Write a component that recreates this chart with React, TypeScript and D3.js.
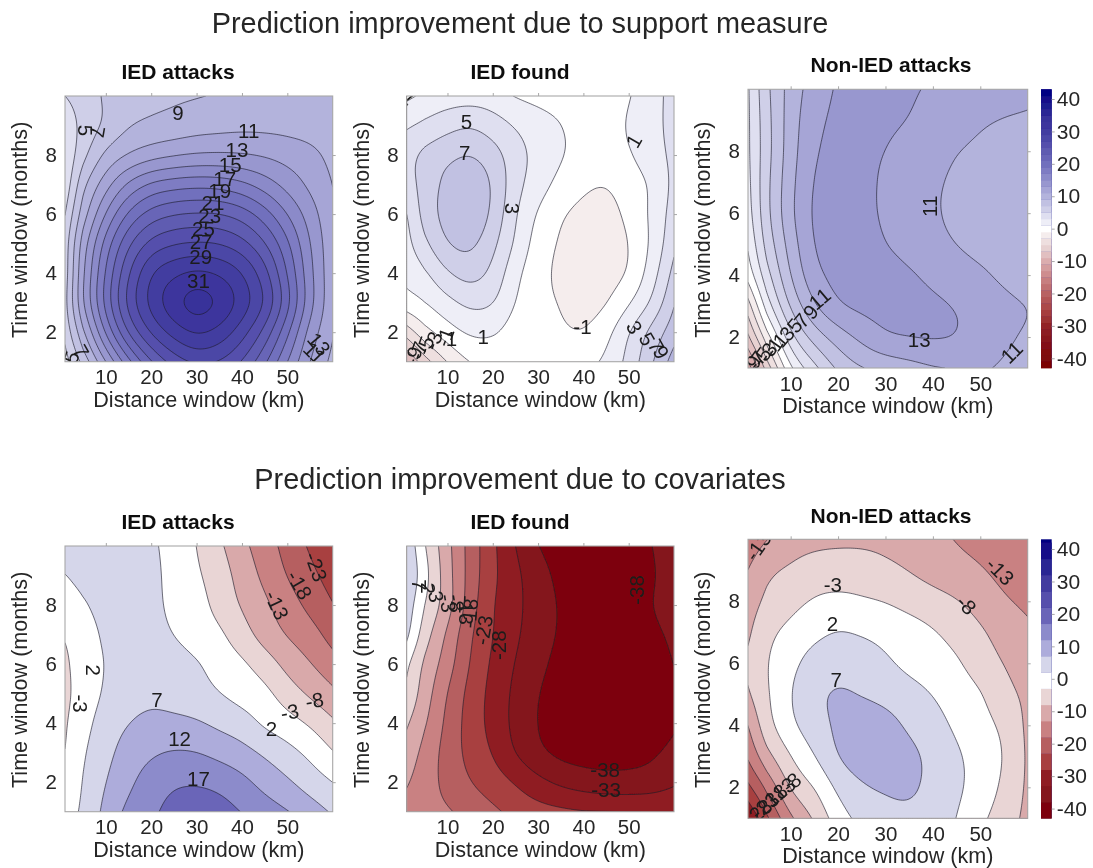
import { useEffect, useRef } from "react";
import * as d3 from "d3";

// grid positions the values below were read at
const kmKnots = [1, 5, 10, 15, 20, 25, 30, 35, 40, 45, 50, 55, 60];
const monthRows = [10, 9, 8, 7, 6, 5, 4, 3, 2, 1];

// improvement values, one row per month (10 down to 1), one column per km knot
const supportAttacks = [
  [5.0, 6.0, 7.3, 8.0, 8.4, 8.7, 8.9, 9.15, 9.4, 9.6, 9.7, 9.8, 9.7],
  [3.5, 5.6, 7.2, 8.8, 9.3, 9.6, 10, 10.2, 10.4, 10.4, 10.3, 10, 9.6],
  [3.2, 6.3, 9.5, 11, 12, 12.6, 13, 13.1, 13, 12.7, 12.2, 11.7, 10.4],
  [3.5, 8.6, 12.2, 15.5, 17.5, 18.2, 18.5, 18.3, 17.5, 16, 14.2, 12.5, 11],
  [5, 10, 15.2, 19.5, 22, 23, 23.3, 23.2, 22.2, 20, 17, 14, 11.3],
  [6, 12, 18, 22.8, 25.8, 26.9, 27.2, 27, 25.8, 23.3, 19.5, 15, 11.5],
  [6, 12.7, 19.4, 25, 29.2, 30.8, 31.6, 31, 29.3, 26, 21, 15.5, 11.5],
  [6.5, 13, 20, 26, 30, 32.8, 34.6, 33.2, 30.5, 27.3, 22, 15.7, 11.5],
  [5.6, 10.5, 17.5, 23.5, 27.5, 30, 31.5, 30.5, 28, 24.5, 19.5, 14, 11.2],
  [4.2, 7.5, 13, 18.5, 23, 26, 27.5, 27, 25, 21.5, 17, 12.8, 10.5],
];
const supportFound = [
  [0.6, 1.4, 1.9, 2.1, 1.9, 0.85, 0.4, 0.2, 0.1, 0.2, 0.8, 2.2, 3.7],
  [2.8, 3.4, 4.4, 5, 4, 2.9, 1.9, 1.1, 0.3, 0.2, 1.2, 2.3, 3.7],
  [4.4, 5.7, 6.6, 7.2, 6, 3.9, 2.4, 1.2, 0.4, 0.2, 0.8, 2.1, 3.5],
  [4.3, 5.7, 7.8, 8.7, 7, 3.7, 1.9, 0.4, -0.7, -1.1, 0, 1.1, 3.5],
  [2.9, 5.9, 8, 8.9, 6.7, 3.1, 0.7, -0.9, -1.6, -1.8, -0.6, 1.3, 3.9],
  [2.4, 4.6, 7.2, 7.7, 5.6, 2.7, 0, -1.3, -1.9, -1.9, -1.2, 1.2, 4.5],
  [1.6, 2.6, 4.9, 6, 4.6, 1.5, -0.4, -1.5, -2, -1.9, -1.1, 1.9, 5.6],
  [0.4, 1, 2.4, 3.6, 3.3, 0.9, -0.6, -1.05, -1.9, -1.3, 0.7, 3.1, 6.8],
  [-4, -1.5, 0.2, 1.4, 1.3, 0, -0.5, -0.8, -1.1, 0.3, 3, 5.7, 8.1],
  [-9, -5.8, -2.8, -0.8, -0.3, -0.2, -0.1, 0, 0.3, 1.3, 3.6, 6.7, 9.9],
];
const supportNonIed = [
  [2.8, 6.6, 9.9, 12, 13.3, 13.7, 13.6, 13.2, 12.8, 12.4, 12, 11.7, 11.4],
  [2.7, 6.3, 10.1, 12.5, 13.5, 13.5, 13.3, 13, 12.4, 11.9, 11.2, 10.9, 10.8],
  [2.7, 6.2, 10.2, 12.9, 13.7, 13.4, 13, 12.4, 11.8, 11, 10.6, 10.3, 10.2],
  [2.5, 6.5, 10.5, 13.3, 14, 13.5, 12.7, 12, 11.3, 10.6, 10.3, 10.1, 10],
  [2.2, 6.5, 10.7, 13.5, 14, 13.5, 12.7, 12, 11.2, 10.5, 10.2, 10, 10],
  [1.3, 5.8, 10, 13.3, 14, 13.8, 13, 12.2, 11.6, 10.9, 10.4, 10.2, 10.1],
  [0, 4.3, 9.2, 12.6, 13.7, 14, 13.9, 13.3, 12.6, 11.9, 11.3, 10.6, 10],
  [-4, 2.1, 7.5, 11, 13, 13.6, 13.7, 13.6, 13.4, 13, 12.2, 11.5, 11.1],
  [-7.2, -1.9, 4.6, 8, 10, 11.6, 13, 13.3, 13.4, 13.2, 12, 11.3, 10.8],
  [-12, -6.3, 1, 4.5, 7.5, 9, 9.6, 10.2, 10.9, 11.1, 11.2, 10.8, 10.3],
];
const covariateAttacks = [
  [3.5, 3, 3, 3, 2.8, 0.4, -3, -7, -11.8, -15.5, -19.8, -23.6, -28],
  [2, 3.3, 3.8, 3.8, 3.5, 0.2, -2.3, -5.3, -10.1, -14.2, -18.3, -21.6, -25.2],
  [-0.3, 1.5, 3.7, 4, 3.5, 0.6, -1, -4.7, -8.6, -12, -15.7, -19.4, -22.8],
  [-2.6, -0.2, 2.9, 3.5, 3.7, 1.9, -0.4, -1.9, -5.9, -10.4, -13.5, -15.9, -20],
  [-4.1, -0.1, 2.2, 3.3, 4.4, 4.1, 2.7, -0.2, -1.9, -5.3, -9.6, -12.8, -16],
  [-4.2, -0.9, 2.7, 4.9, 5.9, 5, 3.9, 2, 0, -1.4, -5.5, -8.9, -12],
  [-3.5, 0.2, 4.5, 7, 8.3, 8.1, 7.5, 5.8, 4.2, 0.9, -1, -3.5, -7.1],
  [-3, 1.5, 5.6, 9.2, 11.4, 12.5, 12.2, 10.5, 8.7, 6.3, 3.7, 0.9, -2.7],
  [-1.5, 2.1, 7, 11, 14.5, 16.5, 16.7, 15.7, 13.5, 10.3, 7.7, 4.6, 2],
  [0.5, 2.4, 8.6, 13.4, 15.9, 19, 20.2, 19.3, 16.8, 14.5, 12.3, 9.5, 6.4],
];
const covariateFound = [
  [6, -2.7, -11.5, -20, -27, -33.1, -38.2, -40, -40.5, -40.5, -40, -38.1, -36],
  [7.2, -0.9, -11, -20, -27, -31.7, -36.2, -39.2, -40.5, -41, -40.5, -38.6, -36],
  [5, -3, -10.4, -20.7, -28, -31.6, -35.6, -38.5, -40.3, -41, -40.3, -38, -36],
  [3.5, -5.8, -14, -22.5, -28, -32.2, -35.8, -38.6, -40.2, -40.8, -40.5, -39, -37.2],
  [-2.4, -9.1, -15.6, -23.4, -29, -33.3, -36.8, -39.5, -40.8, -41, -40.8, -40, -37.9],
  [-3.8, -10.5, -18.3, -24.8, -29.7, -34.2, -38, -40.3, -41.3, -41.3, -41, -40.4, -39],
  [-7.5, -12.2, -19.5, -25.2, -29.8, -34.5, -38.4, -40.5, -41.4, -41.4, -41, -40, -38.6],
  [-10, -14.7, -20.2, -24.7, -28.3, -33.5, -37.4, -39.6, -40.4, -40.3, -39.8, -38.9, -37],
  [-12.5, -15.8, -19.6, -23, -25.6, -28.3, -31.7, -34.2, -35.6, -36.5, -36.7, -36.2, -34],
  [-15, -16.6, -17.4, -19.7, -22, -24.5, -26, -27, -27.8, -27.9, -28, -28, -28.2],
];
const covariateNonIed = [
  [-16.4, -13, -10.5, -9.5, -9, -9, -9.3, -10, -11.5, -13.3, -14.6, -16, -17.5],
  [-12.8, -8.7, -7.2, -5.5, -5.4, -5.6, -7, -8.3, -10, -11.4, -12.6, -14.5, -16.2],
  [-10.5, -6.9, -4.5, -2.5, -1.8, -2.5, -3.1, -4.7, -6.1, -7.6, -10, -12.5, -14],
  [-8.8, -4, -1.6, 0.8, 2.5, 1.7, 0.7, -0.6, -2.4, -4.7, -7.2, -10, -12],
  [-7, -3.1, 0.7, 4.3, 5.2, 4.5, 2.7, 0.6, -0.6, -2.2, -5.5, -8.2, -10],
  [-8.3, -3.6, 2.1, 6.3, 7.9, 6.8, 5.6, 3.9, 1.9, -0.5, -2.3, -6.8, -8.9],
  [-13, -4.4, 1.3, 4.9, 8.2, 9.6, 8.9, 6.3, 4, 1.1, -1.2, -3.8, -9],
  [-17, -9.3, -2.9, 2, 7.5, 9.9, 9.6, 8.4, 5.9, 2.7, 0.3, -2.9, -8.6],
  [-24, -17, -6.9, -3, 3.3, 6.6, 7.7, 8.1, 5.8, 3, 0.1, -3.9, -8.8],
  [-33, -24, -13.5, -7.4, -0.2, 3.6, 5.3, 5.9, 5, 2, -1.9, -5.5, -9.3],
];

// contour labels: text, km, months, rotation
const supportAttacksLabels = [
  ["9", 25.9, 9.44, 0], ["11", 41.5, 8.83, 0], ["13", 38.9, 8.19, 0], ["15", 37.4, 7.69, 0],
  ["17", 36.2, 7.2, 0], ["19", 35.1, 6.79, 0], ["21", 33.6, 6.38, 0], ["23", 32.9, 5.96, 0],
  ["25", 31.5, 5.51, 0], ["27", 31, 5.06, 0], ["29", 30.9, 4.55, 0], ["31", 30.4, 3.75, 0],
  ["5", 5.5, 8.83, 90], ["7", 8.2, 8.79, 100], ["5", 2.4, 1.15, -70], ["7", 4.6, 1.35, 60],
  ["13", 57, 1.6, 50], ["11", 56, 1.3, 45],
];
const supportFoundLabels = [
  ["1", 1.7, 9.95, 50], ["5", 14.2, 9.13, 0], ["7", 13.8, 8.08, 0], ["3", 24.3, 6.19, 90],
  ["1", 51.1, 8.48, -60], ["-1", 39.8, 2.2, 0], ["1", 17.9, 1.85, 0], ["1", 10.9, 1.79, 0],
  ["-1", 9.4, 1.83, -70], ["-3", 6.8, 1.71, -70], ["-5", 5, 1.55, -70], ["-7", 3.5, 1.37, -70],
  ["-9", 2.4, 1.2, -70], ["3", 51.3, 2.17, 60], ["5", 54.1, 1.77, 60], ["7", 56.1, 1.54, 60],
  ["9", 57.2, 1.32, 60],
];
const supportNonIedLabels = [
  ["11", 39.4, 6.22, -90], ["13", 37.1, 1.91, 0], ["11", 56.6, 1.51, -45], ["11", 16.1, 3.24, -40],
  ["9", 14.2, 2.81, -50], ["7", 12.3, 2.54, -50], ["5", 10.8, 2.38, -50], ["3", 9.2, 2.11, -50],
  ["1", 7.8, 1.91, -50], ["-1", 6.3, 1.68, -55], ["-3", 5, 1.51, -55], ["-5", 3.8, 1.37, -55],
  ["-7", 2.7, 1.24, -55], ["-9", 1.7, 1.11, -55],
];
const covariateAttacksLabels = [
  ["-23", 56.4, 9.3, 70], ["-18", 52.7, 8.68, 60], ["-13", 47.7, 8, 65], ["-8", 56, 4.77, -10],
  ["-3", 50.5, 4.38, -10], ["2", 46.5, 3.81, 0], ["7", 21.25, 4.8, 0], ["12", 26.25, 3.47, 0],
  ["17", 30.4, 2.11, 0], ["2", 7.3, 5.79, 90], ["-3", 4.3, 4.66, 90],
];
const covariateFoundLabels = [
  ["-38", 51.7, 8.51, -90], ["-38", 44.8, 2.42, 0], ["-33", 45, 1.74, 0], ["-28", 21.2, 6.64, -90],
  ["-23", 17.9, 7.15, -80], ["-18", 14.9, 7.72, -85], ["-13", 14.2, 7.83, 90], ["-8", 12, 8.06, 80],
  ["-3", 10.1, 8.06, 80], ["-3", 7.4, 8.4, 80], ["2", 5.7, 8.57, 90], ["7", 3.9, 8.68, 90],
];
const covariateNonIedLabels = [
  ["-13", 3.1, 9.78, -55], ["-13", 54.2, 8.97, 45], ["-8", 47.1, 7.89, 45], ["-3", 18.9, 8.54, 0],
  ["2", 18.8, 7.28, 0], ["7", 19.6, 5.48, 0], ["-8", 10.1, 2.16, -40], ["-13", 8, 1.89, -40],
  ["-18", 6.3, 1.68, -40], ["-23", 4.5, 1.41, -40], ["-28", 3.1, 1.19, -40],
];

const kmTicks = [10, 20, 30, 40, 50];
const monthTicks = [2, 4, 6, 8];
const barTicks = [40, 30, 20, 10, 0, -10, -20, -30, -40];

// colour ramps of the filled bands, the two rows use slightly different blues
const redValues = [-43, -35.5, -30.5, -25.5, -20.5, -15.5, -10.5, -5.5, -2, 0];
const redColors = ["#7a0000", "#84121a", "#8f1f22", "#a84040", "#b65e60", "#c98182", "#d9a9aa", "#e9d5d5", "#f5eded", "#ffffff"];
const rampSupport = d3
  .scaleLinear<string>()
  .domain([...redValues, 2, 6, 10, 14, 20, 30, 34, 43])
  .range([...redColors, "#eeeef7", "#cfcfe8", "#b3b3dc", "#9897cf", "#716fbd", "#433ca0", "#38309a", "#000080"])
  .clamp(true);
const rampCovariates = d3
  .scaleLinear<string>()
  .domain([...redValues, 4.5, 9.5, 14.5, 19.5, 32, 43])
  .range([...redColors, "#d5d6ea", "#adacdb", "#8c8bcb", "#6a65b8", "#393099", "#000080"])
  .clamp(true);

const levelsSupport = d3.range(-43, 45, 2);
const levelsCovariates = d3.range(-43, 43, 5);

const bandColor = (ramp: any, lo: number, hi: number) => (lo < 0 && hi > 0 ? "#ffffff" : ramp((lo + hi) / 2));

// smooth drawing of the read-off grid, for the contour tracer
const kmIndex = d3.scaleLinear().domain(kmKnots).range(kmKnots.map((_, i) => i));
const monthIndex = d3.scaleLinear().domain(monthRows).range(monthRows.map((_, i) => i));
const BASIS_SHARE = 0.7;

function cubic(a: number, b: number, c: number, d: number, t: number) {
  const t2 = t * t;
  const t3 = t2 * t;
  const cr = 0.5 * (2 * b + (c - a) * t + (2 * a - 5 * b + 4 * c - d) * t2 + (3 * b - a - 3 * c + d) * t3);
  const bs = ((1 - t) ** 3 * a + (3 * t3 - 6 * t2 + 4) * b + (-3 * t3 + 3 * t2 + 3 * t + 1) * c + t3 * d) / 6;
  return BASIS_SHARE * bs + (1 - BASIS_SHARE) * cr;
}

function pick(list: number[], i: number) {
  if (i < 0) return 2 * list[0] - list[1];
  if (i >= list.length) return 2 * list[list.length - 1] - list[list.length - 2];
  return list[i];
}

function sample(grid: number[][], km: number, month: number) {
  const u = kmIndex(km);
  const v = monthIndex(month);
  const iu = Math.min(Math.floor(u), kmKnots.length - 2);
  const iv = Math.min(Math.floor(v), monthRows.length - 2);
  const column = [-1, 0, 1, 2].map((dv) => {
    const r = iv + dv;
    const at = (j: number) =>
      r < 0 ? 2 * grid[0][j] - grid[1][j] : r >= grid.length ? 2 * grid[grid.length - 1][j] - grid[grid.length - 2][j] : grid[r][j];
    const vals = kmKnots.map((_, j) => at(j));
    return cubic(pick(vals, iu - 1), pick(vals, iu), pick(vals, iu + 1), pick(vals, iu + 2), u - iu);
  });
  return cubic(column[0], column[1], column[2], column[3], v - iv);
}

const panels = [
  { title: "IED attacks", grid: supportAttacks, labels: supportAttacksLabels, levels: levelsSupport, ramp: rampSupport, box: [65, 96, 267.7, 265.7], titleXY: [178, 72] },
  { title: "IED found", grid: supportFound, labels: supportFoundLabels, levels: levelsSupport, ramp: rampSupport, box: [406.7, 96, 267.3, 265.7], titleXY: [520, 72] },
  { title: "Non-IED attacks", grid: supportNonIed, labels: supportNonIedLabels, levels: levelsSupport, ramp: rampSupport, box: [748, 89.3, 279.7, 278.7], titleXY: [891, 65] },
  { title: "IED attacks", grid: covariateAttacks, labels: covariateAttacksLabels, levels: levelsCovariates, ramp: rampCovariates, box: [65, 546, 267.7, 265.7], titleXY: [178, 522] },
  { title: "IED found", grid: covariateFound, labels: covariateFoundLabels, levels: levelsCovariates, ramp: rampCovariates, box: [406.7, 546, 267.3, 265.7], titleXY: [520, 522] },
  { title: "Non-IED attacks", grid: covariateNonIed, labels: covariateNonIedLabels, levels: levelsCovariates, ramp: rampCovariates, box: [748, 539.3, 279.7, 279], titleXY: [891, 516] },
];

const colorBars = [
  { levels: levelsSupport, ramp: rampSupport, box: [1041, 89.3, 10.7, 278.7] },
  { levels: levelsCovariates, ramp: rampCovariates, box: [1041, 539.3, 10.7, 279] },
];

const FONT = "'Liberation Sans', Arial, sans-serif";
const INK = "#262626";
const FRAME = "#a8a8a8";
const NX = 135;
const NY = 134;

export default function App() {
  const svgRef = useRef<SVGSVGElement>(null);

  useEffect(() => {
    const svg = d3.select(svgRef.current);
    svg.selectAll("*").remove();

    // the source picture is slightly soft
    const defs = svg.append("defs");
    defs
      .append("filter")
      .attr("id", "soft")
      .attr("filterUnits", "userSpaceOnUse")
      .attr("x", 0)
      .attr("y", 0)
      .attr("width", 1093)
      .attr("height", 868)
      .append("feGaussianBlur")
      .attr("stdDeviation", 0.55);

    const root = svg.append("g").attr("filter", "url(#soft)");
    root.append("rect").attr("width", 1093).attr("height", 868).attr("fill", "#fff");

    root
      .append("text")
      .attr("x", 520)
      .attr("y", 33)
      .attr("text-anchor", "middle")
      .attr("font-size", 28.9)
      .attr("fill", INK)
      .text("Prediction improvement due to support measure");
    root
      .append("text")
      .attr("x", 520)
      .attr("y", 489)
      .attr("text-anchor", "middle")
      .attr("font-size", 28.9)
      .attr("fill", INK)
      .text("Prediction improvement due to covariates");

    panels.forEach((p, n) => {
      const [left, top, w, h] = p.box;
      const x = d3.scaleLinear().domain([1, 60]).range([left, left + w]);
      const y = d3.scaleLinear().domain([1, 10]).range([top + h, top]);
      const g = root.append("g");

      defs
        .append("clipPath")
        .attr("id", `clip-${n}`)
        .append("rect")
        .attr("x", left)
        .attr("y", top)
        .attr("width", w)
        .attr("height", h);

      // evaluate the grid finely, then trace with d3.contours
      const cellKm = d3.scaleLinear().domain([0, NX - 1]).range([1, 60]);
      const cellMonth = d3.scaleLinear().domain([0, NY - 1]).range([10, 1]);
      const values: number[] = [];
      for (let j = 0; j < NY; j++) {
        for (let i = 0; i < NX; i++) values.push(sample(p.grid, cellKm(i), cellMonth(j)));
      }
      const path = d3.geoPath(
        d3.geoTransform({
          point(cx: number, cy: number) {
            this.stream.point(x(cellKm(cx - 0.5)), y(cellMonth(cy - 0.5)));
          },
        })
      );
      const tracer = d3.contours().size([NX, NY]).thresholds(p.levels);
      const shapes = tracer(values);
      const step = p.levels[1] - p.levels[0];

      const plot = g.append("g").attr("clip-path", `url(#clip-${n})`);
      plot
        .append("rect")
        .attr("x", left)
        .attr("y", top)
        .attr("width", w)
        .attr("height", h)
        .attr("fill", bandColor(p.ramp, p.levels[0] - step, p.levels[0]));
      shapes.forEach((s, k) => {
        if (!s.coordinates.length) return;
        const lo = p.levels[k];
        plot.append("path").attr("d", path(s)).attr("fill", bandColor(p.ramp, lo, lo + step)).attr("stroke", "none");
      });
      shapes.forEach((s) => {
        if (!s.coordinates.length) return;
        plot
          .append("path")
          .attr("d", path(s))
          .attr("fill", "none")
          .attr("stroke", "#1d1d2b")
          .attr("stroke-opacity", 0.7)
          .attr("stroke-width", 0.9);
      });

      // contour labels
      g.append("g")
        .attr("clip-path", `url(#clip-${n})`)
        .selectAll("text")
        .data(p.labels)
        .join("text")
        .attr("transform", (d: any) => `translate(${x(d[1])},${y(d[2])}) rotate(${d[3]})`)
        .attr("text-anchor", "middle")
        .attr("dy", "0.36em")
        .attr("font-size", 20.5)
        .attr("fill", "#1c1c1c")
        .text((d: any) => d[0]);

      // frame, with ticks on top and right only
      g.append("rect")
        .attr("x", left)
        .attr("y", top)
        .attr("width", w)
        .attr("height", h)
        .attr("fill", "none")
        .attr("stroke", FRAME)
        .attr("stroke-width", 1.1);
      const topAxis = g.append("g").attr("transform", `translate(0,${top})`).call(d3.axisTop(x).tickValues(kmTicks).tickSize(3).tickFormat(() => ""));
      const rightAxis = g.append("g").attr("transform", `translate(${left + w},0)`).call(d3.axisRight(y).tickValues(monthTicks).tickSize(3).tickFormat(() => ""));
      [topAxis, rightAxis].forEach((a) => {
        a.select(".domain").remove();
        a.selectAll("line").attr("stroke", FRAME);
      });

      const bottomAxis = g
        .append("g")
        .attr("transform", `translate(0,${top + h})`)
        .call(d3.axisBottom(x).tickValues(kmTicks).tickSize(0).tickPadding(8));
      const leftAxis = g
        .append("g")
        .attr("transform", `translate(${left},0)`)
        .call(d3.axisLeft(y).tickValues(monthTicks).tickSize(0).tickPadding(8));
      [bottomAxis, leftAxis].forEach((a) => {
        a.select(".domain").remove();
        a.selectAll("text").attr("font-size", 20.5).attr("font-family", FONT).attr("fill", INK);
      });

      g.append("text")
        .attr("x", left + w / 2)
        .attr("y", top + h + 45)
        .attr("text-anchor", "middle")
        .attr("font-size", 21.6)
        .attr("fill", INK)
        .text("Distance window (km)");
      g.append("text")
        .attr("transform", `translate(${left - 38},${top + h / 2 + 1}) rotate(-90)`)
        .attr("text-anchor", "middle")
        .attr("font-size", 21.6)
        .attr("fill", INK)
        .text("Time window (months)");
      g.append("text")
        .attr("x", p.titleXY[0])
        .attr("y", p.titleXY[1] + 7)
        .attr("text-anchor", "middle")
        .attr("font-size", 21)
        .attr("font-weight", "bold")
        .attr("fill", "#111")
        .text(p.title);
    });

    colorBars.forEach((c) => {
      const [left, top, w, h] = c.box;
      const scale = d3.scaleLinear().domain([-43, 43]).range([top + h, top]);
      const step = c.levels[1] - c.levels[0];
      const g = root.append("g");
      g.append("rect").attr("x", left).attr("y", top).attr("width", w).attr("height", h).attr("fill", c.ramp(43));
      g.selectAll("rect.band")
        .data(c.levels.filter((l) => l + step <= 43.01))
        .join("rect")
        .attr("class", "band")
        .attr("x", left)
        .attr("width", w)
        .attr("y", (l) => scale(l + step))
        .attr("height", (l) => scale(l) - scale(l + step) + 0.4)
        .attr("fill", (l) => bandColor(c.ramp, l, l + step));
      const axis = g
        .append("g")
        .attr("transform", `translate(${left + w},0)`)
        .call(d3.axisRight(scale).tickValues(barTicks).tickSize(3).tickPadding(2).tickFormat((d) => String(d)));
      axis.select(".domain").remove();
      axis.selectAll("line").attr("stroke", FRAME);
      axis.selectAll("text").attr("font-size", 21).attr("font-family", FONT).attr("fill", INK);
    });
  }, []);

  return (
    <svg
      ref={svgRef}
      width={1093}
      height={868}
      fontFamily={FONT}
      style={{ position: "absolute", left: 0, top: 0 }}
    />
  );
}
